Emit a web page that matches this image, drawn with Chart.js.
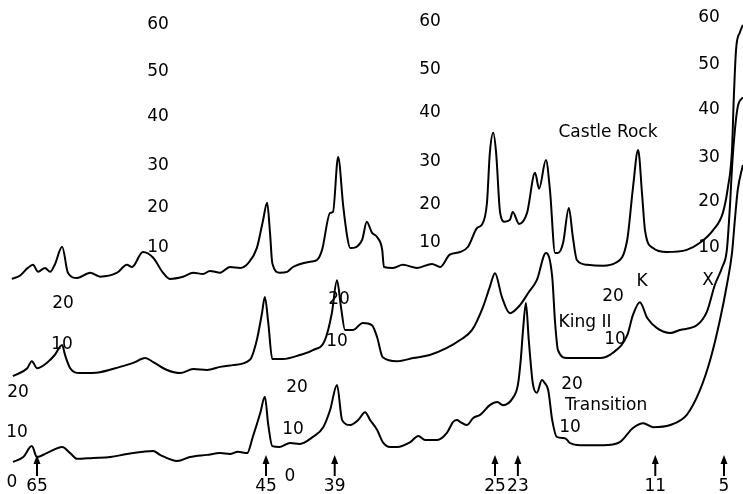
<!DOCTYPE html>
<html>
<head>
<meta charset="utf-8">
<script src="https://cdn.jsdelivr.net/npm/chart.js@4"></script>
<style>
html,body{margin:0;padding:0;background:#fff;}
#wrap{width:743px;height:494px;position:relative;}
</style>
</head>
<body>
<div id="wrap"><canvas id="c" width="743" height="494"></canvas></div>
<script>
// ---- Data (x in the figure's own units, decreasing to the right; y = intensity of each trace) ----
const castleRockX = [67.2,66.5,65.8,65.35,64.9,64.3,63.85,63.45,62.8,62.3,61.5,60.35,59.5,58.0,57.15,56.7,55.75,54.85,54.0,53.4,52.25,51.35,50.5,49.9,49.0,48.15,47.25,46.55,45.8,45.25,44.9,44.65,44.45,43.8,43.15,42.65,41.15,40.55,40.1,39.4,39.15,38.7,38.25,37.9,37.65,36.6,36.2,35.75,35.3,34.85,34.7,33.9,33.05,31.8,30.5,29.8,28.95,28.05,27.35,26.55,26.15,25.7,25.45,25.15,24.9,24.55,24.15,23.7,23.45,22.9,22.2,21.5,21.15,20.55,20.2,19.75,19.5,19.05,18.55,18.2,17.85,16.95,15.55,14.5,13.45,12.95,12.5,12.15,11.9,11.2,10.0,8.25,7.1,5.95,5.1,4.65,4.3,4.15,3.95,3.6,3.35];
const castleRockY = [2.5,3.2,5.0,5.7,4.1,5.0,4.1,5.7,9.8,3.9,2.7,3.9,3.0,3.9,5.7,5.2,8.6,7.3,3.9,2.5,3.0,3.9,3.6,4.3,3.9,5.2,5.0,6.1,9.5,15.9,19.8,13.0,6.1,3.9,4.1,5.2,6.4,6.8,9.1,17.5,17.7,30.2,18.9,12.0,9.5,11.4,15.5,13.0,12.0,9.1,5.2,5.0,5.7,5.0,5.9,5.2,8.0,8.6,9.8,14.1,14.8,19.8,31.1,35.7,31.1,17.5,15.5,15.9,17.7,15.0,17.5,26.6,23.0,29.5,22.7,8.4,8.4,10.7,18.6,12.0,6.8,5.7,5.5,6.1,11.4,23.2,31.8,21.6,13.6,9.5,8.6,9.1,10.7,13.6,17.5,23.4,31.8,43.2,54.5,58.6,60.2];

const kingX = [67.1,65.85,65.45,65.0,64.15,63.45,62.8,62.55,62.1,61.25,59.5,57.75,56.6,55.55,54.85,53.65,52.5,51.35,50.15,49.0,47.9,46.4,45.8,45.35,45.1,44.8,44.45,43.5,42.05,40.9,39.85,39.25,38.8,38.45,38.1,37.4,36.55,35.75,35.3,34.8,33.55,32.15,30.7,29.2,28.05,27.0,26.05,25.45,25.0,24.4,23.7,22.8,22.1,21.35,20.55,20.0,19.75,19.5,18.7,15.85,14.7,13.45,12.95,12.35,11.7,10.85,9.7,8.85,7.35,6.5,5.8,5.15,4.75,4.45,4.3,4.05,3.8,3.35];
const kingY = [2.7,4.5,6.1,4.5,5.7,7.5,9.8,7.5,4.5,3.4,3.6,4.8,5.7,6.8,5.9,4.1,3.4,4.3,4.1,4.8,5.2,6.4,10.9,17.0,20.7,14.8,6.6,6.6,7.5,8.6,10.9,17.0,24.5,18.4,13.2,13.2,14.8,14.3,11.6,7.0,6.1,6.8,7.5,9.1,10.9,13.2,18.4,23.0,26.1,20.7,17.0,18.9,21.6,24.5,30.7,25.2,14.8,8.6,6.8,6.8,8.0,12.0,16.6,19.5,15.9,13.6,12.5,13.2,14.3,17.3,23.4,27.5,31.4,42.7,50.2,58.6,63.9,66.1];

const transitionX = [67.1,66.2,65.45,65.0,64.15,62.8,62.1,61.5,60.1,58.6,57.15,55.75,54.85,54.25,52.75,51.65,50.15,49.0,48.15,47.45,46.65,46.15,45.5,45.1,44.8,44.45,43.8,42.9,42.05,40.9,40.0,39.4,38.8,38.35,37.65,36.95,36.35,35.9,35.3,34.8,34.15,33.55,32.4,31.7,31.1,30.05,29.2,28.65,28.3,28.05,27.45,26.9,26.3,25.45,24.8,24.3,23.45,23.0,22.75,22.55,22.3,22.05,21.7,21.35,20.9,20.65,20.35,20.0,19.6,18.9,18.45,17.55,15.55,14.1,12.95,12.05,11.2,9.7,8.25,7.1,6.2,5.35,4.75,4.3,4.05,3.8,3.35];
const transitionY = [3.2,4.3,6.8,4.3,5.2,6.6,5.2,3.9,4.1,4.3,5.0,5.5,5.7,4.8,3.4,4.3,4.8,5.2,5.0,5.5,5.2,8.9,14.3,18.0,11.6,6.8,6.6,7.5,7.3,8.9,11.1,15.0,20.7,12.7,11.6,12.7,14.5,12.7,10.5,7.7,6.6,6.6,7.7,9.1,8.2,8.2,9.8,12.3,12.7,12.3,11.6,13.2,13.9,16.1,16.8,16.1,17.7,20.7,26.4,33.2,39.3,30.9,21.1,18.9,21.8,21.1,19.5,12.7,8.9,8.6,7.5,7.0,7.0,7.7,10.9,12.0,11.1,11.6,13.9,19.5,26.4,35.5,43.4,50.7,58.2,65.0,70.7];

// vertical offsets of the stacked traces (chart y units)
const castleRockOffset = 42.3;
const kingOffset = 20;
const transitionOffset = 0;

// marked positions (arrows along the bottom)
const arrowValues = [65, 45, 39, 25, 23, 11, 5];
const arrowLabels = ["65", "45", "39", "25", "23", "11", "5"];

// intensity scale columns for the upper trace
const scaleTickText = ["60", "50", "40", "30", "20", "10"];
const scaleLeftX = 54.43,  scaleLeftY  = [102.5, 91.8, 81.6, 70.5, 60.9, 52.0];
const scaleMidX  = 30.68,  scaleMidY   = [103.2, 92.3, 82.5, 71.4, 61.6, 53.0];
const scaleRightX = 6.31,  scaleRightY = [104.1, 93.4, 83.2, 72.3, 62.3, 51.8];

// other text annotations
const noteText = ["Castle Rock", "K", "X", "20", "King II", "10", "20", "10", "20", "10", "20", "10", "0", "20", "10", "0", "20", "Transition", "10"];
const noteX    = [15.13, 12.16, 6.4, 14.69, 17.14, 14.52, 62.73, 62.82, 38.62, 38.80, 66.66, 66.75, 67.18, 42.29, 42.64, 42.90, 18.27, 15.3, 18.45];
const noteY    = [78.0, 44.3, 44.5, 40.7, 34.8, 30.9, 39.3, 29.8, 40.0, 30.5, 18.9, 9.8, -1.4, 20.2, 10.5, -0.2, 20.7, 16.1, 10.9];

const arrowTipY = 4.8, arrowBaseY = 0, arrowLabelY = -2.5;

function series(xs, ys, off) { return xs.map((x, i) => ({ x: x, y: ys[i] + off })); }

const FONT = '17px "DejaVu Sans", sans-serif';

const annotations = {
  id: 'annotations',
  afterDatasetsDraw(chart) {
    const ctx = chart.ctx, xs = chart.scales.x, ys = chart.scales.y;
    ctx.save();
    ctx.fillStyle = '#000';
    ctx.strokeStyle = '#000';
    ctx.font = FONT;
    ctx.textAlign = 'center';
    ctx.textBaseline = 'middle';
    const cols = [[scaleLeftX, scaleLeftY], [scaleMidX, scaleMidY], [scaleRightX, scaleRightY]];
    cols.forEach(([cx, cy]) => {
      scaleTickText.forEach((t, i) => ctx.fillText(t, xs.getPixelForValue(cx), ys.getPixelForValue(cy[i])));
    });
    noteText.forEach((t, i) => ctx.fillText(t, xs.getPixelForValue(noteX[i]), ys.getPixelForValue(noteY[i])));
    // arrows
    arrowValues.forEach((v, i) => {
      const px = xs.getPixelForValue(v);
      const tip = ys.getPixelForValue(arrowTipY);
      const base = ys.getPixelForValue(arrowBaseY);
      ctx.lineWidth = 2;
      ctx.beginPath();
      ctx.moveTo(px, tip + 6);
      ctx.lineTo(px, base);
      ctx.stroke();
      ctx.beginPath();
      ctx.moveTo(px, tip);
      ctx.lineTo(px - 3.5, tip + 9);
      ctx.lineTo(px + 3.5, tip + 9);
      ctx.closePath();
      ctx.fill();
      ctx.fillText(arrowLabels[i], px, ys.getPixelForValue(arrowLabelY));
    });
    ctx.restore();
  }
};

const lineStyle = {
  borderColor: '#000',
  borderWidth: 2,
  pointRadius: 0,
  fill: false,
  cubicInterpolationMode: 'monotone'
};

new Chart(document.getElementById('c'), {
  type: 'line',
  data: {
    datasets: [
      Object.assign({ label: 'Castle Rock', data: series(castleRockX, castleRockY, castleRockOffset) }, lineStyle),
      Object.assign({ label: 'King II', data: series(kingX, kingY, kingOffset) }, lineStyle),
      Object.assign({ label: 'Transition', data: series(transitionX, transitionY, transitionOffset) }, lineStyle)
    ]
  },
  options: {
    responsive: false,
    animation: false,
    layout: { padding: 0 },
    plugins: { legend: { display: false }, tooltip: { enabled: false } },
    scales: {
      x: { type: 'linear', reverse: true, min: 3.34, max: 68.23, display: false },
      y: { type: 'linear', min: -4.09, max: 108.18, display: false }
    }
  },
  plugins: [annotations]
});
</script>
</body>
</html>
